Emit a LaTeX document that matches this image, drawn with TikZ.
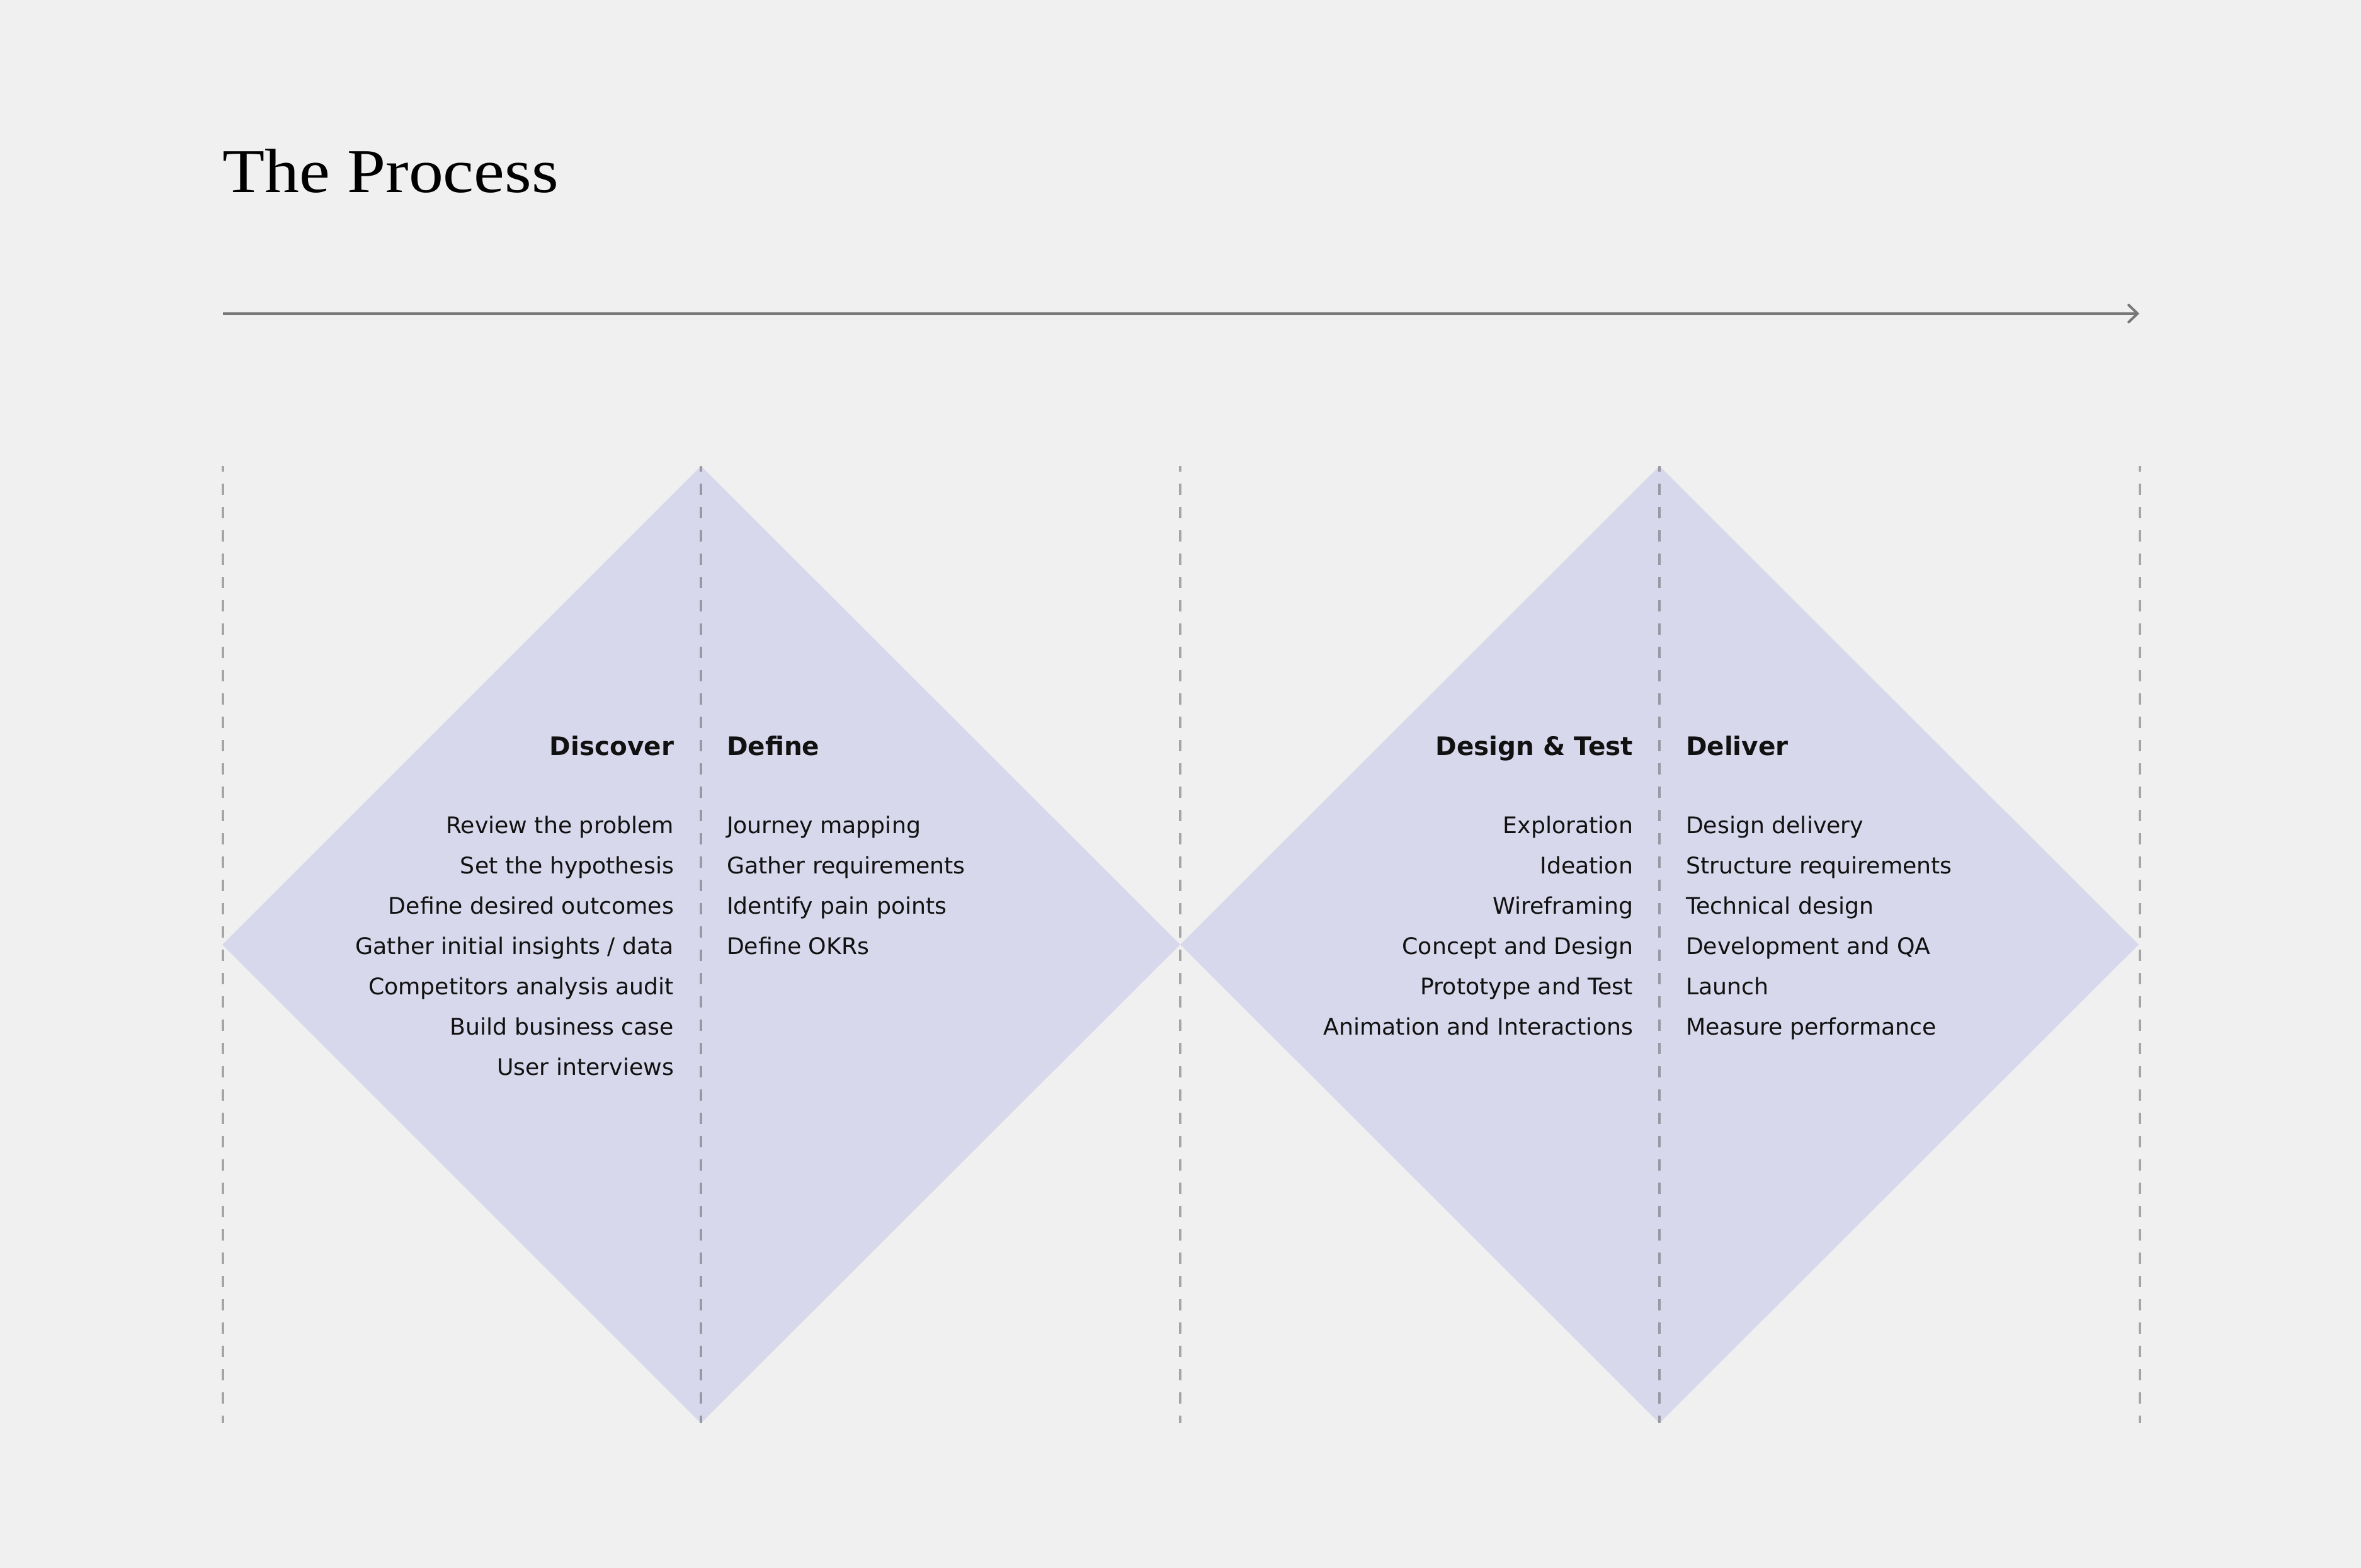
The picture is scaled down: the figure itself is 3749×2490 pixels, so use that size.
\documentclass[tikz,border=0pt]{standalone}
\usepackage{fontspec}
\setmainfont{DejaVu Sans}
\newfontfamily\titlefont[FakeStretch=1.11]{Liberation Serif}
\usetikzlibrary{arrows.meta}
\definecolor{bg}{HTML}{F0F0F0}
\definecolor{lav}{HTML}{D8D8EC}
\definecolor{guide}{HTML}{5C5C5C}
\definecolor{arrowgray}{HTML}{787878}
\definecolor{ink}{HTML}{111111}
\begin{document}
\begin{tikzpicture}[x=0.2pt,y=-0.2pt,
  guideline/.style={draw=guide,draw opacity=0.5,line width=0.8pt,dash pattern=on 3.6pt off 3.8pt,dash phase=1.8pt},
  lavfill/.style={fill=lav},
  heading/.style={inner sep=0pt,font=\fontsize{8.1}{10}\selectfont\bfseries,text=ink},
  item/.style={inner sep=0pt,font=\fontsize{7.25}{9}\selectfont,text=ink},
  timeline/.style={draw=arrowgray,line width=0.8pt,-{Straight Barb[length=2.8pt,width=5.4pt,line cap=round]}}]
\fill[bg] (0,0) rectangle (3749,2490);
\useasboundingbox (0,0) rectangle (3749,2490);
% title
\node[inner sep=0pt,anchor=base west,font=\titlefont\fontsize{19.8}{22}\selectfont,text=black] (title) at (352,306) {The Process};
% timeline arrow
\coordinate (tlstart) at (354,498);
\coordinate (tlend) at (3397,498);
\draw[timeline] (tlstart) -- (tlend);
% diamonds
\coordinate (d1l) at (353,1500);
\coordinate (d1t) at (1113,740);
\coordinate (d1r) at (1874,1500);
\coordinate (d1b) at (1113,2260);
\coordinate (d2t) at (2635,740);
\coordinate (d2r) at (3396,1500);
\coordinate (d2b) at (2635,2260);
\fill[lavfill] (d1l) -- (d1t) -- (d1r) -- (d1b) -- cycle;
\fill[lavfill] (d1r) -- (d2t) -- (d2r) -- (d2b) -- cycle;
% guide lines
\foreach \gx [count=\g] in {354,1113,1874,2635,3398} {
  \coordinate (gt\g) at (\gx,740);
  \coordinate (gb\g) at (\gx,2260);
  \draw[guideline] (gt\g) -- (gb\g);
}
% headings
\node[heading,anchor=base east] (hdiscover) at (1071,1199) {Discover};
\node[heading,anchor=base west] (hdefine) at (1153,1199) {Define};
\node[heading,anchor=base east] (hdesign) at (2594,1199) {Design \& Test};
\node[heading,anchor=base west] (hdeliver) at (2676,1199) {Deliver};
% items
\foreach \t [count=\i] in {Review the problem,Set the hypothesis,Define desired outcomes,Gather initial insights / data,Competitors analysis audit,Build business case,User interviews}
  \node[item,anchor=base east] (disc\i) at (1071,{1323+64*(\i-1)}) {\t};
\foreach \t [count=\i] in {Journey mapping,Gather requirements,Identify pain points,Define OKRs}
  \node[item,anchor=base west] (def\i) at (1153,{1323+64*(\i-1)}) {\t};
\foreach \t [count=\i] in {Exploration,Ideation,Wireframing,Concept and Design,Prototype and Test,Animation and Interactions}
  \node[item,anchor=base east] (des\i) at (2594,{1323+64*(\i-1)}) {\t};
\foreach \t [count=\i] in {Design delivery,Structure requirements,Technical design,Development and QA,Launch,Measure performance}
  \node[item,anchor=base west] (del\i) at (2676,{1323+64*(\i-1)}) {\t};
\end{tikzpicture}
\end{document}
